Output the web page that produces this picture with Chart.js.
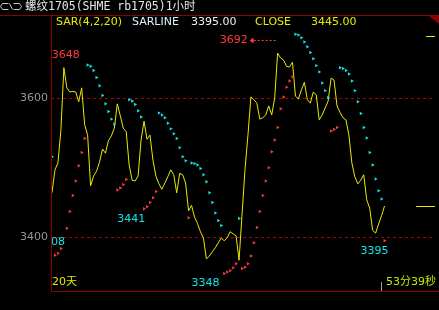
<!DOCTYPE html>
<html>
<head>
<meta charset="utf-8">
<script src="https://cdn.jsdelivr.net/npm/chart.js@4"></script>
<style>
  html, body { margin: 0; padding: 0; background: #000; }
  canvas { display: block; }
</style>
</head>
<body>
<canvas id="chart" width="439" height="310"></canvas>
<script>
// hourly closes of rb1705, one per bar, oldest first
const closes = [
  3464, 3497, 3507, 3554, 3644, 3615, 3609, 3610, 3609, 3595,
  3615, 3562, 3547, 3474, 3488, 3495, 3508, 3527, 3521, 3539,
  3546, 3557, 3592, 3575, 3557, 3552, 3504, 3482, 3481, 3488,
  3540, 3567, 3541, 3547, 3511, 3488, 3477, 3469, 3478, 3487,
  3497, 3490, 3464, 3492, 3490, 3478, 3438, 3446, 3429, 3420,
  3408, 3399, 3369, 3373, 3379, 3385, 3392, 3399, 3395, 3399,
  3408, 3405, 3402, 3367, 3432, 3497, 3547, 3602, 3598, 3593,
  3570, 3572, 3576, 3589, 3576, 3600, 3665, 3658, 3655, 3646,
  3645, 3652, 3603, 3599, 3612, 3623, 3598, 3593, 3609, 3605,
  3569, 3576, 3586, 3596, 3629, 3626, 3589, 3580, 3572, 3569,
  3547, 3507, 3487, 3477, 3482, 3490, 3454, 3442, 3410, 3406,
  3419, 3431, 3445,
];

// SAR(4,2,20) for each bar, null where no dot is drawn
const sar = [
  3516, 3374, 3377, 3384, null, 3413, 3437, 3460, 3481, 3503,
  3522, 3542, 3648, 3646, 3640, 3630, 3618, 3604, 3592, 3581,
  3570, 3563, 3468, 3471, 3476, 3483, 3598, 3596, 3591, 3582,
  3573, 3441, 3444, 3450, 3457, 3466, 3579, 3576, 3572, 3564,
  3556, 3549, 3542, 3529, 3516, 3510, 3428, 3507, 3506, 3504,
  3499, 3490, 3480, 3464, 3450, 3435, 3424, 3417, 3348, 3350,
  3352, 3356, 3362, 3427, 3355, 3357, 3362, 3373, 3392, 3414,
  3437, 3460, 3481, 3500, 3523, 3540, 3558, 3585, 3602, 3616,
  3625, 3631, 3692, 3691, 3687, 3681, 3674, 3666, 3657, 3647,
  3638, 3622, 3611, 3601, 3553, 3555, 3558, 3644, 3643, 3640,
  3635, 3625, 3611, 3595, 3578, 3558, 3543, 3522, 3504, 3484,
  3467, 3455, 3395,
];

const yTicks = [3400, 3600];

// low / high labels: bar index and price
const lowBars = [0, 27, 52, 109];
const lowValues = [3408, 3441, 3348, 3395];
const highBars = [5];
const highValues = [3648];
// the top of the window gets an arrow label
const peakBar = 76;
const peakValue = 3692;

// short marks on the right edge
const edgeMarks = [3690, 3445];

const CYAN = "#14e6e6";
const RED = "#ff3a3a";
const YELLOW = "#eaea00";
const FRAME = "#8c0000";
const NUM_FONT = '11px "DejaVu Sans"';

const terminalPlugin = {
  id: "terminal",
  beforeDraw(chart) {
    const ctx = chart.ctx;
    ctx.save();
    ctx.fillStyle = "#000";
    ctx.fillRect(0, 0, chart.width, chart.height);
    ctx.restore();
  },
  afterDraw(chart) {
    const { ctx, chartArea: a } = chart;
    const x = chart.scales.x;
    const y = chart.scales.y;
    ctx.save();

    // frame
    ctx.strokeStyle = FRAME;
    ctx.lineWidth = 1;
    ctx.beginPath();
    ctx.moveTo(0, 15.5);
    ctx.lineTo(chart.width, 15.5);
    ctx.moveTo(a.left + 0.5, 15);
    ctx.lineTo(a.left + 0.5, a.bottom + 1);
    ctx.moveTo(a.left, a.bottom + 0.5);
    ctx.lineTo(chart.width, a.bottom + 0.5);
    ctx.stroke();
    ctx.fillStyle = FRAME;
    ctx.beginPath();
    ctx.moveTo(chart.width - 10, 16);
    ctx.lineTo(chart.width, 16);
    ctx.lineTo(chart.width, 24);
    ctx.closePath();
    ctx.fill();

    // title bar
    ctx.strokeStyle = "#c8c8c8";
    ctx.beginPath();
    ctx.moveTo(8.5, 3.5); ctx.lineTo(2.5, 3.5); ctx.lineTo(0.5, 6.5);
    ctx.lineTo(2.5, 9.5); ctx.lineTo(8.5, 9.5);
    ctx.moveTo(9.5, 3.5); ctx.lineTo(12.5, 9.5);
    ctx.moveTo(13.5, 3.5); ctx.lineTo(19.5, 3.5); ctx.lineTo(21.5, 6.5);
    ctx.lineTo(19.5, 9.5); ctx.lineTo(13.5, 9.5);
    ctx.stroke();
    ctx.fillStyle = "#e6e6e6";
    ctx.font = '11.5px "DejaVu Sans Mono", "Noto Sans CJK SC"';
    ctx.textBaseline = "middle";
    ctx.textAlign = "left";
    ctx.fillText("螺纹1705(SHME rb1705)1小时", 25, 7.5);

    // indicator legend
    const last = closes.length - 1;
    ctx.font = NUM_FONT;
    ctx.fillStyle = YELLOW;
    ctx.fillText("SAR(4,2,20)", 56, 22.5);
    ctx.fillStyle = "#d8f4ff";
    ctx.fillText("SARLINE", 132, 22.5);
    ctx.fillStyle = "#f0f0f0";
    ctx.fillText(sar[last].toFixed(2), 191, 22.5);
    ctx.fillStyle = YELLOW;
    ctx.fillText("CLOSE", 255, 22.5);
    ctx.fillText(closes[last].toFixed(2), 311, 22.5);

    // right edge marks
    ctx.strokeStyle = YELLOW;
    ctx.beginPath();
    edgeMarks.forEach((v, k) => {
      const py = Math.round(y.getPixelForValue(v)) + 0.5;
      ctx.moveTo(k === 0 ? a.right - 9 : a.right - 19, py);
      ctx.lineTo(a.right, py);
    });
    ctx.stroke();

    // extreme labels
    ctx.save();
    ctx.beginPath();
    ctx.rect(a.left + 1, a.top, a.right - a.left, a.bottom - a.top);
    ctx.clip();
    ctx.textAlign = "center";
    ctx.fillStyle = CYAN;
    lowBars.forEach((b, k) => {
      ctx.fillText(String(lowValues[k]), x.getPixelForValue(b) - 1, y.getPixelForValue(lowValues[k]) + 10);
    });
    ctx.fillStyle = RED;
    highBars.forEach((b, k) => {
      ctx.fillText(String(highValues[k]), x.getPixelForValue(b) - 1, y.getPixelForValue(highValues[k]) - 10);
    });
    ctx.restore();

    // peak label with arrow
    const px = x.getPixelForValue(peakBar);
    const py = Math.round(y.getPixelForValue(peakValue) + 5.5) + 0.5;
    ctx.fillStyle = RED;
    ctx.strokeStyle = RED;
    ctx.textAlign = "right";
    ctx.fillText(String(peakValue), px - 30, py);
    ctx.beginPath();
    ctx.moveTo(px - 28, py);
    ctx.lineTo(px - 24, py - 3);
    ctx.lineTo(px - 24, py + 3);
    ctx.closePath();
    ctx.fill();
    ctx.setLineDash([2, 2]);
    ctx.beginPath();
    ctx.moveTo(px - 24, py);
    ctx.lineTo(px - 1, py);
    ctx.stroke();
    ctx.setLineDash([]);

    // bottom status
    ctx.textAlign = "left";
    ctx.font = '11px "DejaVu Sans", "Noto Sans CJK SC"';
    ctx.fillStyle = "#e6e600";
    ctx.fillText("20天", 52, 282.5);
    ctx.fillStyle = "#c8e600";
    ctx.fillText("53分39秒", 386, 282.5);
    ctx.strokeStyle = "#a0a0a0";
    ctx.beginPath();
    ctx.moveTo(381.5, 282);
    ctx.lineTo(381.5, a.bottom);
    ctx.stroke();

    ctx.restore();
  },
};

const bars = closes.map((_, i) => i);

new Chart(document.getElementById("chart"), {
  type: "line",
  data: {
    datasets: [
      {
        label: "CLOSE",
        data: bars.map((i) => ({ x: i, y: closes[i] })),
        borderColor: YELLOW,
        borderWidth: 1,
        pointRadius: 0,
        tension: 0,
        order: 2,
      },
      {
        label: "SARLINE",
        data: bars.map((i) => ({ x: i, y: sar[i] })),
        showLine: false,
        pointStyle: "triangle",
        rotation: 90,
        pointRadius: 2,
        pointBorderWidth: 0,
        pointBackgroundColor: bars.map((i) => (sar[i] > closes[i] ? CYAN : RED)),
        order: 1,
      },
    ],
  },
  options: {
    responsive: false,
    animation: false,
    events: [],
    layout: { padding: { top: 16, right: 0, bottom: 19, left: 0 } },
    plugins: { legend: { display: false }, tooltip: { enabled: false } },
    scales: {
      x: { type: "linear", display: false, min: -1 / 3, max: 129 },
      y: {
        min: 3322.7,
        max: 3718.4,
        afterFit: (axis) => { axis.width = 51; },
        afterBuildTicks: (axis) => { axis.ticks = yTicks.map((v) => ({ value: v })); },
        border: { display: false, dash: [3, 3] },
        grid: { color: "#b00000", drawTicks: false },
        ticks: {
          color: "#8e98a0",
          font: { family: "DejaVu Sans", size: 11 },
          padding: 3,
          callback: (v) => String(v),
        },
      },
    },
  },
  plugins: [terminalPlugin],
});
</script>
</body>
</html>
